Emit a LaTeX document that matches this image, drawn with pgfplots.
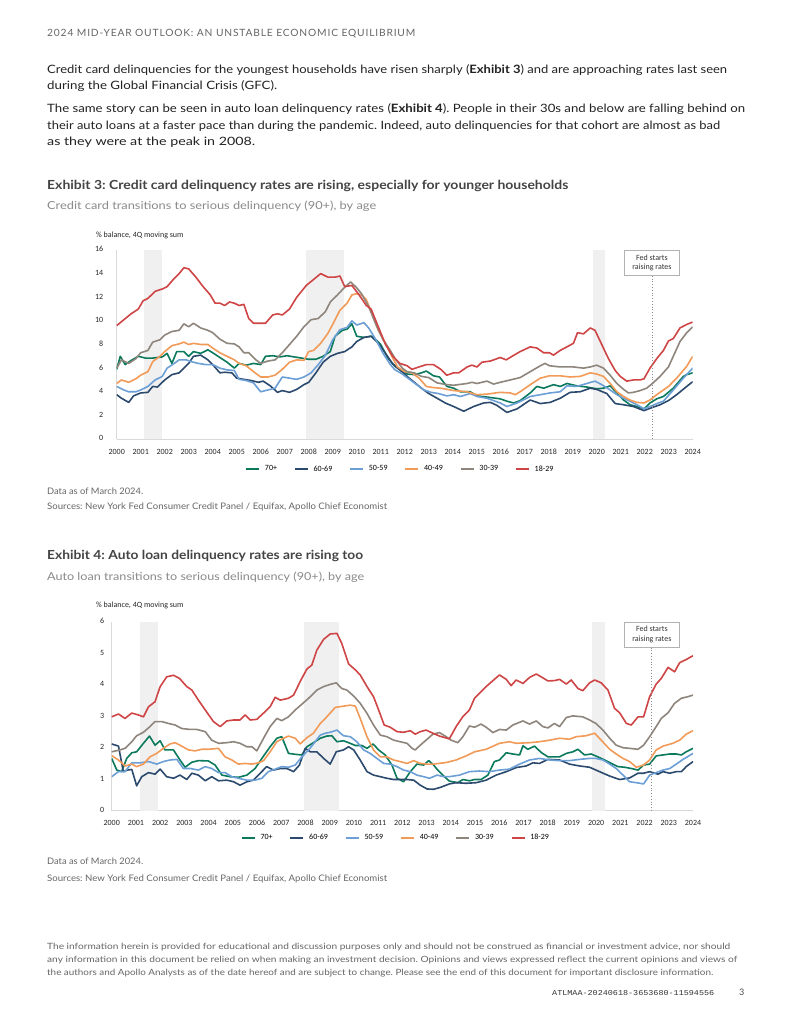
\documentclass[border=0pt]{standalone}
\usepackage{pgfplots}
\pgfplotsset{compat=1.18}
\usepackage{fontspec}
\usepackage{graphicx}
\setmainfont{Lato}
\newfontfamily\chartfont{Carlito}
\newfontfamily\codefont{Liberation Mono}
\frenchspacing

\definecolor{c70}{HTML}{0B7A5C}
\definecolor{c60}{HTML}{2C4A6E}
\definecolor{c50}{HTML}{6C9FD6}
\definecolor{c40}{HTML}{F29A58}
\definecolor{c30}{HTML}{8E857C}
\definecolor{c18}{HTML}{CF4545}
\definecolor{recess}{HTML}{F0F0F0}
\definecolor{axisgray}{HTML}{D9D9D9}
\definecolor{bodytext}{HTML}{222222}
\definecolor{titletext}{HTML}{444444}
\definecolor{subtext}{HTML}{8A8A8A}
\definecolor{notetext}{HTML}{666666}

% stretch a line of text to a given width, keeping its height
\newcommand{\fitline}[2]{\resizebox{#1}{\height}{#2}}
\newcommand{\chartsize}{\chartfont\fontsize{8}{9.5}\selectfont}

\tikzset{
  fedbox/.style={draw=black!30, line width=0.8pt, fill=white, align=center,
    font=\chartsize, inner sep=2pt, minimum width=55pt, minimum height=25pt,
    text=black!80},
}

\pgfplotsset{
  delinq/.style={
    scale only axis,
    xmin=2000, xmax=2024, ymin=0,
    axis x line*=bottom, axis y line*=left,
    axis line style={draw=axisgray, line width=1pt, -},
    xtick={2000,2001,...,2024},
    major tick length=0pt,
    tick style={draw=none},
    typeset ticklabels with strut,
    /pgf/number format/assume math mode=true,
    /pgf/number format/1000 sep={},
    x tick label style={font=\chartsize, text=black!85, yshift=-5pt},
    y tick label style={font=\chartsize, text=black!85},
    every axis plot/.append style={line width=1.6pt, line join=round},
    legend style={draw=none, fill=none, legend columns=6, font=\chartsize,
      inner sep=0pt,
      /tikz/every odd column/.append style={column sep=3pt},
      /tikz/every even column/.append style={column sep=15pt}},
    legend image code/.code={\draw[#1, line width=1.6pt] (0pt,0pt) -- (13pt,0pt);},
  },
}

\begin{document}
\begin{tikzpicture}[x=1pt,y=1pt]
\useasboundingbox (0,0) rectangle (791,-1024);
\fill[white] (0,0) rectangle (791,-1024);

% ---------- page text ----------
\node[anchor=base west, inner sep=0, text=notetext, font=\fontsize{10}{12}\selectfont]
  at (47,-37) {\fitline{368pt}{\addfontfeatures{LetterSpace=8}2024 MID-YEAR OUTLOOK: AN UNSTABLE ECONOMIC EQUILIBRIUM}};

\begin{scope}[every node/.style={anchor=base west, inner sep=0, text=bodytext, font=\fontsize{11.5}{14}\selectfont}]
\node at (47,-74) {\fitline{680pt}{Credit card delinquencies for the youngest households have risen sharply (\textbf{Exhibit 3}) and are approaching rates last seen}};
\node at (47,-90) {\fitline{230pt}{during the Global Financial Crisis (GFC).}};
\node at (47,-113) {\fitline{698pt}{The same story can be seen in auto loan delinquency rates (\textbf{Exhibit 4}). People in their 30s and below are falling behind on}};
\node at (47,-130) {\fitline{673pt}{their auto loans at a faster pace than during the pandemic. Indeed, auto delinquencies for that cohort are almost as bad}};
\node at (47,-146) {\fitline{208pt}{as they were at the peak in 2008.}};
\end{scope}

\node[anchor=base west, inner sep=0, text=titletext, font=\fontsize{12.5}{15}\selectfont\bfseries]
  at (47,-190) {\fitline{521pt}{Exhibit 3: Credit card delinquency rates are rising, especially for younger households}};
\node[anchor=base west, inner sep=0, text=subtext, font=\fontsize{11}{13}\selectfont]
  at (47,-210) {\fitline{329pt}{Credit card transitions to serious delinquency (90+), by age}};
\node[anchor=base west, inner sep=0, text=black!85, font=\chartsize]
  at (96,-237) {\% balance, 4Q moving sum};

\node[anchor=base west, inner sep=0, text=notetext, font=\fontsize{9}{11}\selectfont]
  at (47,-494.5) {\fitline{96pt}{Data as of March 2024.}};
\node[anchor=base west, inner sep=0, text=notetext, font=\fontsize{9}{11}\selectfont]
  at (47,-509.5) {\fitline{340pt}{Sources: New York Fed Consumer Credit Panel / Equifax, Apollo Chief Economist}};

\node[anchor=base west, inner sep=0, text=titletext, font=\fontsize{12.5}{15}\selectfont\bfseries]
  at (47,-559) {\fitline{316pt}{Exhibit 4: Auto loan delinquency rates are rising too}};
\node[anchor=base west, inner sep=0, text=subtext, font=\fontsize{11}{13}\selectfont]
  at (47,-580) {\fitline{317pt}{Auto loan transitions to serious delinquency (90+), by age}};
\node[anchor=base west, inner sep=0, text=black!85, font=\chartsize]
  at (96,-607) {\% balance, 4Q moving sum};

\node[anchor=base west, inner sep=0, text=notetext, font=\fontsize{9}{11}\selectfont]
  at (47,-864.5) {\fitline{96pt}{Data as of March 2024.}};
\node[anchor=base west, inner sep=0, text=notetext, font=\fontsize{9}{11}\selectfont]
  at (47,-881.5) {\fitline{340pt}{Sources: New York Fed Consumer Credit Panel / Equifax, Apollo Chief Economist}};

\begin{scope}[every node/.style={anchor=base west, inner sep=0, text=notetext, font=\fontsize{8.6}{10}\selectfont}]
\node at (47,-949) {\fitline{683pt}{The information herein is provided for educational and discussion purposes only and should not be construed as financial or investment advice, nor should}};
\node at (47,-962) {\fitline{690pt}{any information in this document be relied on when making an investment decision. Opinions and views expressed reflect the current opinions and views of}};
\node at (47,-975) {\fitline{666pt}{the authors and Apollo Analysts as of the date hereof and are subject to change. Please see the end of this document for important disclosure information.}};
\end{scope}
\node[anchor=base west, inner sep=0, text=black!80, font=\codefont\fontsize{7.5}{9}\selectfont]
  at (552,-995) {\fitline{162pt}{ATLMAA-20240618-3653680-11594556}};
\node[anchor=base west, inner sep=0, text=black!70, font=\fontsize{9}{11}\selectfont]
  at (739,-995) {3};

% ---------- Exhibit 3 ----------
\begin{axis}[delinq,
  at={(116.7pt,-439pt)}, anchor=south west,
  width=576pt, height=189pt,
  ymax=16, ytick={0,2,...,16},
  y tick label style={xshift=-10pt},
  legend style={at={(0.4925,-0.159)}, anchor=center},
]
\addplot[fill=recess, draw=none, forget plot] coordinates {(2001.14,16) (2001.875,16)} \closedcycle;
\addplot[fill=recess, draw=none, forget plot] coordinates {(2007.9,16) (2009.46,16)} \closedcycle;
\addplot[fill=recess, draw=none, forget plot] coordinates {(2019.85,16) (2020.36,16)} \closedcycle;

% 70+
\addplot[c70] coordinates {(2000.0,5.9)(2000.15,7.0)(2000.35,6.3)(2000.6,6.65)(2000.9,7.0)(2001.2,6.85)(2001.5,6.85)(2001.9,6.95)(2002.1,7.25)(2002.3,6.4)(2002.5,7.4)(2002.8,7.4)(2003.0,7.0)(2003.2,7.4)(2003.5,7.25)(2003.8,7.55)(2004.0,7.3)(2004.3,6.9)(2004.6,6.5)(2004.9,6.0)(2005.1,6.4)(2005.4,6.25)(2005.7,6.4)(2006.0,6.3)(2006.2,7.0)(2006.5,7.05)(2006.8,6.95)(2007.1,7.05)(2007.4,6.95)(2007.7,6.85)(2008.0,6.75)(2008.3,6.75)(2008.6,7.0)(2008.9,7.4)(2009.1,8.7)(2009.4,9.2)(2009.6,9.3)(2009.8,9.75)(2010.0,8.7)(2010.3,8.6)(2010.6,8.7)(2010.8,8.4)(2011.0,8.0)(2011.3,6.85)(2011.6,6.15)(2011.9,5.7)(2012.1,5.5)(2012.4,5.45)(2012.7,5.6)(2012.9,5.75)(2013.2,5.35)(2013.45,5.25)(2013.76,4.45)(2014.04,4.3)(2014.32,4.0)(2014.73,4.0)(2015.01,3.65)(2015.43,3.55)(2015.98,3.4)(2016.26,3.2)(2016.54,3.05)(2016.81,3.25)(2017.23,3.9)(2017.51,4.45)(2017.79,4.3)(2018.2,4.6)(2018.48,4.45)(2018.76,4.7)(2019.17,4.5)(2019.59,4.4)(2020.0,4.25)(2020.28,4.3)(2020.56,4.5)(2020.84,3.9)(2021.12,3.3)(2021.39,2.9)(2021.67,2.75)(2021.97,2.55)(2022.22,3.05)(2022.5,3.4)(2022.78,3.6)(2023.19,4.3)(2023.61,5.3)(2023.75,5.45)(2024.0,5.6)};
\addlegendentry{70+}
% 60-69
\addplot[c60] coordinates {(2000.0,3.75)(2000.2,3.45)(2000.5,3.1)(2000.7,3.65)(2001.0,3.9)(2001.3,3.95)(2001.5,4.45)(2001.7,4.4)(2002.0,5.0)(2002.3,5.45)(2002.6,5.6)(2002.8,6.0)(2003.0,6.4)(2003.2,7.0)(2003.5,7.1)(2003.8,6.7)(2004.0,6.3)(2004.3,5.6)(2004.5,5.65)(2004.8,5.6)(2005.0,5.15)(2005.3,5.05)(2005.6,4.95)(2005.9,4.8)(2006.1,4.9)(2006.4,4.5)(2006.7,3.95)(2006.9,4.1)(2007.2,3.95)(2007.5,4.2)(2007.8,4.6)(2008.0,4.8)(2008.3,5.6)(2008.6,6.5)(2008.9,7.0)(2009.2,7.25)(2009.5,7.4)(2009.8,7.8)(2010.0,8.25)(2010.3,8.6)(2010.6,8.7)(2010.9,8.1)(2011.2,7.25)(2011.5,6.35)(2011.8,5.85)(2012.1,5.3)(2012.4,4.8)(2012.7,4.3)(2013.0,3.85)(2013.35,3.45)(2013.69,3.05)(2014.04,2.75)(2014.46,2.35)(2014.87,2.75)(2015.29,3.05)(2015.57,3.1)(2015.84,2.85)(2016.26,2.25)(2016.68,2.55)(2017.23,3.3)(2017.65,3.0)(2018.06,3.1)(2018.48,3.45)(2018.89,3.95)(2019.31,4.0)(2019.73,4.3)(2020.0,4.2)(2020.42,3.85)(2020.77,3.0)(2021.12,2.9)(2021.53,2.75)(2021.97,2.4)(2022.22,2.6)(2022.64,2.9)(2022.99,3.25)(2023.33,3.75)(2023.75,4.45)(2024.0,4.85)};
\addlegendentry{60-69}
% 50-59
\addplot[c50] coordinates {(2000.0,4.45)(2000.3,4.15)(2000.5,4.0)(2000.8,4.0)(2001.0,4.15)(2001.3,4.45)(2001.6,5.0)(2001.9,5.3)(2002.1,6.0)(2002.4,6.4)(2002.6,6.7)(2002.9,6.7)(2003.1,6.55)(2003.4,6.4)(2003.7,6.3)(2004.0,6.3)(2004.3,6.0)(2004.6,5.85)(2004.9,5.8)(2005.1,5.05)(2005.4,4.95)(2005.7,4.75)(2006.0,4.0)(2006.3,4.15)(2006.6,4.3)(2006.9,5.25)(2007.2,5.15)(2007.5,5.05)(2007.8,5.25)(2008.1,5.6)(2008.4,6.3)(2008.7,7.1)(2009.0,8.4)(2009.3,9.25)(2009.6,9.45)(2009.8,10.0)(2010.0,9.65)(2010.3,9.85)(2010.5,9.4)(2010.8,8.4)(2011.1,7.25)(2011.4,6.3)(2011.6,5.85)(2011.9,5.5)(2012.2,5.05)(2012.5,4.6)(2012.8,4.15)(2013.1,3.95)(2013.4,3.85)(2013.76,3.65)(2014.04,3.75)(2014.32,3.6)(2014.73,3.85)(2015.01,3.6)(2015.43,3.45)(2015.98,3.05)(2016.26,2.75)(2016.68,3.05)(2017.23,3.6)(2017.65,3.75)(2018.06,3.9)(2018.48,4.0)(2018.76,4.5)(2019.17,4.45)(2019.59,4.7)(2019.93,4.9)(2020.21,4.6)(2020.56,4.15)(2020.84,3.75)(2021.12,3.45)(2021.53,3.05)(2021.81,2.75)(2021.97,2.55)(2022.22,2.75)(2022.57,3.05)(2022.78,3.2)(2023.19,4.15)(2023.61,5.15)(2024.0,6.0)};
\addlegendentry{50-59}
% 40-49
\addplot[c40] coordinates {(2000.0,4.7)(2000.2,5.0)(2000.5,4.8)(2000.8,5.1)(2001.0,5.4)(2001.3,5.7)(2001.5,6.55)(2001.8,7.0)(2002.0,7.4)(2002.3,7.9)(2002.6,8.05)(2002.8,8.2)(2003.0,8.0)(2003.2,8.1)(2003.5,8.0)(2003.8,8.0)(2004.0,7.7)(2004.3,7.3)(2004.6,7.0)(2004.9,6.7)(2005.1,6.4)(2005.4,6.2)(2005.7,5.7)(2006.0,5.25)(2006.3,5.25)(2006.6,5.4)(2006.9,5.9)(2007.2,6.5)(2007.5,6.7)(2007.8,6.65)(2008.0,7.4)(2008.2,7.5)(2008.5,8.1)(2008.8,8.95)(2009.0,9.7)(2009.3,10.9)(2009.6,11.5)(2009.8,12.2)(2010.0,12.3)(2010.2,12.2)(2010.4,11.8)(2010.6,10.8)(2010.9,9.2)(2011.2,8.1)(2011.5,6.85)(2011.7,6.1)(2012.0,5.7)(2012.3,5.6)(2012.6,5.15)(2012.9,4.45)(2013.2,4.35)(2013.5,4.3)(2014.04,4.1)(2014.6,4.0)(2015.01,3.75)(2015.43,3.8)(2015.98,3.95)(2016.4,3.9)(2016.61,3.75)(2016.81,4.0)(2017.23,4.6)(2017.65,5.15)(2018.03,5.35)(2018.48,5.35)(2018.89,5.25)(2019.31,5.3)(2019.73,5.6)(2020.0,5.5)(2020.28,5.3)(2020.56,4.7)(2020.84,4.0)(2021.12,3.6)(2021.39,3.3)(2021.67,3.1)(2021.97,3.05)(2022.22,3.3)(2022.5,3.75)(2022.99,4.45)(2023.33,5.15)(2023.75,6.15)(2024.0,7.0)};
\addlegendentry{40-49}
% 30-39
\addplot[c30] coordinates {(2000.0,6.0)(2000.2,6.7)(2000.5,6.4)(2000.8,6.8)(2001.0,7.3)(2001.3,7.5)(2001.5,8.2)(2001.8,8.4)(2002.0,8.8)(2002.3,9.1)(2002.6,9.2)(2002.8,9.75)(2003.0,9.5)(2003.2,9.8)(2003.5,9.4)(2003.8,9.2)(2004.0,9.0)(2004.3,8.45)(2004.6,8.1)(2004.9,8.05)(2005.1,7.8)(2005.3,7.3)(2005.5,7.3)(2005.8,6.7)(2006.0,6.4)(2006.3,6.6)(2006.6,6.7)(2006.9,7.3)(2007.2,8.0)(2007.5,8.7)(2007.8,9.5)(2008.1,10.1)(2008.4,10.2)(2008.7,10.8)(2008.9,11.6)(2009.2,12.2)(2009.5,12.85)(2009.75,13.3)(2010.0,12.8)(2010.2,12.3)(2010.5,11.2)(2010.8,9.7)(2011.1,8.4)(2011.4,7.5)(2011.6,6.8)(2011.9,6.0)(2012.1,5.7)(2012.4,5.6)(2012.7,5.3)(2013.0,5.2)(2013.35,4.75)(2013.76,4.6)(2014.04,4.55)(2014.6,4.7)(2014.8,4.8)(2015.01,4.7)(2015.43,4.9)(2015.7,4.65)(2015.98,4.8)(2016.4,5.0)(2016.81,5.2)(2017.23,5.7)(2017.65,6.2)(2017.85,6.4)(2018.03,6.2)(2018.48,6.1)(2019.03,6.1)(2019.45,6.0)(2019.73,6.1)(2020.0,6.25)(2020.28,6.0)(2020.56,5.4)(2020.84,4.7)(2021.12,4.2)(2021.32,3.9)(2021.53,3.95)(2021.81,4.1)(2022.08,4.3)(2022.32,4.7)(2022.64,5.3)(2022.99,6.1)(2023.19,7.0)(2023.47,8.25)(2023.75,9.0)(2024.0,9.5)};
\addlegendentry{30-39}
% 18-29
\addplot[c18] coordinates {(2000.0,9.6)(2000.3,10.1)(2000.6,10.6)(2000.9,11.0)(2001.1,11.7)(2001.3,11.9)(2001.6,12.5)(2001.9,12.7)(2002.1,12.9)(2002.4,13.6)(2002.6,14.0)(2002.8,14.5)(2003.0,14.4)(2003.3,13.7)(2003.6,12.9)(2003.9,12.2)(2004.1,11.5)(2004.3,11.5)(2004.5,11.3)(2004.7,11.6)(2004.9,11.5)(2005.1,11.3)(2005.3,11.4)(2005.5,10.2)(2005.7,9.8)(2006.0,9.8)(2006.2,9.8)(2006.5,10.5)(2006.7,10.6)(2006.9,10.5)(2007.2,11.0)(2007.5,12.0)(2007.9,13.0)(2008.2,13.5)(2008.5,14.0)(2008.8,13.7)(2009.1,13.7)(2009.3,13.8)(2009.5,12.9)(2009.8,13.0)(2010.1,12.2)(2010.4,11.3)(2010.6,11.0)(2010.9,9.5)(2011.2,8.0)(2011.5,7.0)(2011.8,6.4)(2012.1,6.2)(2012.3,5.9)(2012.6,6.1)(2012.9,6.3)(2013.2,6.3)(2013.5,5.9)(2013.75,5.4)(2014.04,5.6)(2014.25,5.6)(2014.6,6.1)(2014.8,6.25)(2015.01,6.1)(2015.22,6.5)(2015.57,6.6)(2015.98,6.9)(2016.23,6.7)(2016.47,7.0)(2016.81,7.4)(2017.23,7.8)(2017.51,7.7)(2017.79,7.3)(2018.03,7.3)(2018.2,7.1)(2018.48,7.5)(2018.76,7.8)(2019.03,8.1)(2019.2,9.0)(2019.45,8.9)(2019.73,9.4)(2019.93,9.2)(2020.21,8.0)(2020.49,6.8)(2020.77,5.8)(2020.98,5.3)(2021.25,4.9)(2021.53,5.0)(2021.81,5.0)(2021.97,5.1)(2022.22,6.0)(2022.5,6.8)(2022.78,7.5)(2022.99,8.3)(2023.19,8.5)(2023.47,9.4)(2023.75,9.7)(2024.0,9.9)};
\addlegendentry{18-29}

\node[fedbox, anchor=north] (fed1) at (axis cs:2022.3,16) {Fed starts\\raising rates};
\draw[black!45, dotted, line width=0.8pt] (fed1.south) -- (axis cs:2022.3,0);
\end{axis}

% ---------- Exhibit 4 ----------
\begin{axis}[delinq,
  at={(111.7pt,-810.7pt)}, anchor=south west,
  width=581.3pt, height=189pt,
  ymax=6, ytick={0,1,...,6},
  y tick label style={xshift=-4pt},
  legend style={at={(0.489,-0.144)}, anchor=center},
]
\addplot[fill=recess, draw=none, forget plot] coordinates {(2001.17,6) (2001.9,6)} \closedcycle;
\addplot[fill=recess, draw=none, forget plot] coordinates {(2007.92,6) (2009.4,6)} \closedcycle;
\addplot[fill=recess, draw=none, forget plot] coordinates {(2019.85,6) (2020.35,6)} \closedcycle;

% 70+
\addplot[c70] coordinates {(2000.0,1.66)(2000.21,1.29)(2000.41,1.24)(2000.62,1.66)(2000.83,1.84)(2001.03,1.87)(2001.31,2.14)(2001.56,2.37)(2001.79,2.08)(2002.0,2.22)(2002.2,1.93)(2002.55,1.93)(2002.82,1.61)(2003.03,1.38)(2003.31,1.54)(2003.58,1.59)(2003.99,1.58)(2004.27,1.45)(2004.55,1.13)(2004.89,1.08)(2005.23,1.06)(2005.58,1.13)(2005.92,1.34)(2006.2,1.66)(2006.54,2.03)(2006.82,2.3)(2007.02,2.35)(2007.3,1.82)(2007.58,1.79)(2007.85,1.77)(2008.06,2.03)(2008.33,2.16)(2008.61,2.3)(2008.88,2.37)(2009.09,2.38)(2009.3,2.19)(2009.57,2.22)(2009.78,2.16)(2010.06,2.07)(2010.33,2.07)(2010.54,1.98)(2010.79,2.12)(2011.02,1.93)(2011.29,1.77)(2011.57,1.45)(2011.78,1.03)(2012.05,0.92)(2012.33,1.24)(2012.6,1.48)(2012.88,1.45)(2013.09,1.59)(2013.29,1.45)(2013.46,1.29)(2013.74,1.08)(2013.94,0.94)(2014.29,0.89)(2014.5,0.99)(2014.77,0.95)(2014.98,0.99)(2015.25,0.99)(2015.53,1.13)(2015.8,1.56)(2016.01,1.61)(2016.29,1.84)(2016.56,1.8)(2016.84,1.77)(2016.98,2.06)(2017.18,1.95)(2017.46,2.05)(2017.73,1.85)(2018.01,1.71)(2018.28,1.71)(2018.49,1.71)(2018.77,1.82)(2019.04,1.87)(2019.25,1.95)(2019.52,1.77)(2019.8,1.8)(2020.07,1.71)(2020.35,1.61)(2020.63,1.5)(2020.9,1.4)(2021.18,1.38)(2021.45,1.34)(2021.73,1.29)(2021.96,1.45)(2022.21,1.48)(2022.48,1.74)(2022.76,1.77)(2023.04,1.8)(2023.31,1.8)(2023.52,1.77)(2023.72,1.87)(2024.0,1.98)};
\addlegendentry{70+}
% 60-69
\addplot[c60] coordinates {(2000.0,2.12)(2000.28,2.05)(2000.48,1.24)(2000.65,1.29)(2000.83,1.31)(2001.03,0.79)(2001.24,1.08)(2001.52,1.21)(2001.79,1.16)(2002.0,1.32)(2002.27,1.08)(2002.55,1.03)(2002.82,1.13)(2003.1,0.99)(2003.31,1.19)(2003.58,1.13)(2003.86,0.95)(2004.13,1.08)(2004.41,0.95)(2004.75,0.97)(2005.03,0.92)(2005.3,0.81)(2005.58,0.92)(2005.85,0.97)(2006.13,1.19)(2006.4,1.4)(2006.68,1.29)(2006.96,1.34)(2007.23,1.34)(2007.51,1.24)(2007.75,1.45)(2007.99,1.98)(2008.2,1.87)(2008.47,1.87)(2008.75,1.66)(2009.02,1.48)(2009.27,1.87)(2009.57,1.93)(2009.78,2.03)(2009.99,1.93)(2010.26,1.61)(2010.54,1.24)(2010.81,1.13)(2011.09,1.08)(2011.36,1.03)(2011.64,0.99)(2011.91,0.99)(2012.19,0.99)(2012.47,0.97)(2012.74,0.81)(2013.02,0.69)(2013.29,0.68)(2013.57,0.74)(2013.94,0.85)(2014.22,0.89)(2014.63,0.87)(2015.05,0.89)(2015.46,0.97)(2015.87,1.13)(2016.29,1.24)(2016.7,1.37)(2017.11,1.42)(2017.39,1.52)(2017.66,1.5)(2018.01,1.63)(2018.49,1.61)(2018.9,1.48)(2019.32,1.42)(2019.73,1.38)(2020.14,1.24)(2020.56,1.1)(2020.97,0.99)(2021.38,1.04)(2021.73,1.19)(2021.96,1.19)(2022.21,1.24)(2022.55,1.16)(2022.76,1.24)(2023.04,1.19)(2023.31,1.24)(2023.52,1.24)(2023.72,1.4)(2024.0,1.56)};
\addlegendentry{60-69}
% 50-59
\addplot[c50] coordinates {(2000.0,1.08)(2000.28,1.24)(2000.55,1.24)(2000.83,1.52)(2001.17,1.52)(2001.52,1.56)(2001.86,1.48)(2002.13,1.56)(2002.41,1.61)(2002.69,1.63)(2002.96,1.34)(2003.24,1.34)(2003.58,1.29)(2003.86,1.4)(2004.13,1.34)(2004.41,1.21)(2004.68,1.21)(2004.96,1.08)(2005.23,1.03)(2005.58,0.97)(2005.92,0.97)(2006.2,1.03)(2006.47,1.24)(2006.75,1.32)(2007.02,1.4)(2007.3,1.38)(2007.58,1.45)(2007.85,1.71)(2008.13,1.93)(2008.4,2.19)(2008.61,2.4)(2008.82,2.46)(2009.02,2.49)(2009.3,2.56)(2009.57,2.38)(2009.85,2.35)(2010.12,2.19)(2010.4,1.93)(2010.67,1.82)(2010.95,1.66)(2011.23,1.5)(2011.5,1.48)(2011.78,1.4)(2012.05,1.29)(2012.33,1.24)(2012.6,1.13)(2012.88,1.08)(2013.12,1.03)(2013.43,1.13)(2013.71,1.08)(2013.94,1.08)(2014.36,1.13)(2014.77,1.24)(2015.18,1.26)(2015.6,1.24)(2016.01,1.29)(2016.42,1.32)(2016.84,1.48)(2017.25,1.61)(2017.66,1.66)(2018.08,1.61)(2018.49,1.59)(2018.9,1.59)(2019.32,1.63)(2019.73,1.66)(2019.99,1.66)(2020.28,1.61)(2020.56,1.48)(2020.83,1.34)(2021.11,1.13)(2021.38,0.92)(2021.66,0.89)(2021.96,0.85)(2022.21,1.13)(2022.48,1.21)(2022.76,1.29)(2023.04,1.34)(2023.31,1.48)(2023.59,1.63)(2024.0,1.82)};
\addlegendentry{50-59}
% 40-49
\addplot[c40] coordinates {(2000.0,1.75)(2000.28,1.61)(2000.55,1.42)(2000.83,1.48)(2001.03,1.4)(2001.31,1.48)(2001.58,1.71)(2001.86,1.82)(2002.13,1.98)(2002.41,2.12)(2002.62,2.16)(2002.89,2.05)(2003.17,1.93)(2003.44,1.9)(2003.72,1.95)(2003.99,1.95)(2004.41,1.98)(2004.68,1.71)(2004.96,1.61)(2005.23,1.48)(2005.51,1.5)(2005.79,1.48)(2006.06,1.52)(2006.27,1.59)(2006.54,1.87)(2006.82,2.19)(2007.09,2.3)(2007.3,2.37)(2007.58,2.3)(2007.78,2.12)(2008.06,2.32)(2008.33,2.46)(2008.61,2.77)(2008.88,2.98)(2009.23,3.28)(2009.57,3.32)(2009.85,3.35)(2010.06,3.32)(2010.26,2.93)(2010.54,2.35)(2010.81,1.93)(2011.09,1.71)(2011.36,1.71)(2011.64,1.61)(2011.91,1.56)(2012.19,1.5)(2012.47,1.59)(2012.74,1.5)(2013.02,1.48)(2013.29,1.48)(2013.81,1.53)(2014.22,1.61)(2014.63,1.74)(2014.98,1.87)(2015.46,1.95)(2016.01,2.14)(2016.42,2.19)(2016.7,2.14)(2017.25,2.16)(2017.66,2.19)(2018.08,2.24)(2018.49,2.3)(2018.9,2.27)(2019.18,2.35)(2019.59,2.38)(2019.94,2.46)(2020.21,2.24)(2020.56,1.95)(2020.83,1.8)(2021.11,1.66)(2021.38,1.56)(2021.66,1.38)(2021.96,1.45)(2022.21,1.61)(2022.48,1.93)(2022.76,2.05)(2023.17,2.14)(2023.45,2.24)(2023.72,2.43)(2024.0,2.54)};
\addlegendentry{40-49}
% 30-39
\addplot[c30] coordinates {(2000.0,1.87)(2000.34,1.93)(2000.55,1.98)(2000.83,2.19)(2001.03,2.38)(2001.31,2.49)(2001.58,2.67)(2001.79,2.83)(2002.07,2.83)(2002.34,2.77)(2002.62,2.72)(2002.89,2.61)(2003.24,2.58)(2003.51,2.58)(2003.86,2.51)(2004.13,2.24)(2004.41,2.14)(2004.75,2.16)(2005.03,2.19)(2005.3,2.14)(2005.58,2.03)(2005.79,2.03)(2005.99,1.9)(2006.27,2.3)(2006.54,2.67)(2006.82,2.93)(2007.02,2.86)(2007.3,2.98)(2007.58,3.2)(2007.85,3.38)(2008.13,3.57)(2008.47,3.83)(2008.75,3.94)(2009.02,4.01)(2009.27,4.06)(2009.5,3.88)(2009.71,3.83)(2009.99,3.64)(2010.26,3.41)(2010.54,3.09)(2010.81,2.72)(2011.09,2.4)(2011.36,2.35)(2011.64,2.24)(2011.91,2.19)(2012.19,2.14)(2012.4,1.98)(2012.53,1.93)(2012.74,2.08)(2012.98,2.24)(2013.26,2.43)(2013.53,2.48)(2013.81,2.35)(2014.01,2.24)(2014.29,2.16)(2014.5,2.35)(2014.77,2.69)(2014.98,2.65)(2015.25,2.75)(2015.46,2.65)(2015.74,2.48)(2016.01,2.58)(2016.29,2.56)(2016.56,2.72)(2016.98,2.85)(2017.25,2.75)(2017.53,2.85)(2017.8,2.67)(2018.01,2.63)(2018.28,2.77)(2018.49,2.67)(2018.77,2.96)(2019.04,3.01)(2019.45,2.98)(2019.73,2.88)(2019.99,2.77)(2020.28,2.56)(2020.56,2.3)(2020.83,2.08)(2021.11,2.0)(2021.38,1.98)(2021.73,1.95)(2021.96,2.08)(2022.21,2.35)(2022.48,2.67)(2022.69,2.93)(2022.97,3.11)(2023.24,3.41)(2023.52,3.57)(2023.79,3.62)(2024.0,3.67)};
\addlegendentry{30-39}
% 18-29
\addplot[c18] coordinates {(2000.0,2.98)(2000.28,3.07)(2000.55,2.93)(2000.83,3.1)(2001.1,3.04)(2001.31,2.98)(2001.52,3.3)(2001.79,3.46)(2002.0,3.94)(2002.27,4.25)(2002.55,4.3)(2002.8,4.2)(2003.1,3.94)(2003.31,3.83)(2003.58,3.51)(2003.86,3.2)(2004.2,2.83)(2004.48,2.67)(2004.75,2.85)(2005.03,2.88)(2005.3,2.88)(2005.51,3.04)(2005.72,2.88)(2005.99,2.9)(2006.27,3.1)(2006.54,3.3)(2006.75,3.6)(2006.96,3.51)(2007.3,3.57)(2007.51,3.67)(2007.78,4.1)(2008.06,4.5)(2008.26,4.62)(2008.47,5.1)(2008.75,5.44)(2009.02,5.61)(2009.3,5.63)(2009.5,5.31)(2009.78,4.66)(2010.06,4.47)(2010.26,4.31)(2010.54,3.94)(2010.81,3.62)(2011.02,3.2)(2011.25,2.72)(2011.5,2.65)(2011.78,2.51)(2012.05,2.49)(2012.33,2.54)(2012.53,2.43)(2012.74,2.51)(2012.98,2.56)(2013.26,2.46)(2013.53,2.37)(2013.94,2.28)(2014.22,2.67)(2014.49,2.98)(2014.77,3.2)(2014.98,3.57)(2015.25,3.78)(2015.53,3.99)(2015.74,4.13)(2016.01,4.31)(2016.29,4.17)(2016.49,3.97)(2016.7,4.15)(2016.98,4.04)(2017.25,4.23)(2017.53,4.34)(2017.73,4.25)(2018.01,4.12)(2018.28,4.13)(2018.49,4.17)(2018.77,4.02)(2018.97,4.15)(2019.25,3.88)(2019.45,3.81)(2019.73,4.06)(2019.94,4.15)(2020.21,4.06)(2020.49,3.83)(2020.76,3.25)(2020.97,3.11)(2021.25,2.77)(2021.45,2.72)(2021.73,2.98)(2021.96,2.98)(2022.21,3.62)(2022.48,4.02)(2022.69,4.2)(2022.97,4.55)(2023.24,4.41)(2023.45,4.7)(2023.72,4.8)(2024.0,4.92)};
\addlegendentry{18-29}

\node[fedbox, anchor=north] (fed2) at (axis cs:2022.3,6) {Fed starts\\raising rates};
\draw[black!45, dotted, line width=0.8pt] (fed2.south) -- (axis cs:2022.3,0);
\end{axis}
\end{tikzpicture}
\end{document}
